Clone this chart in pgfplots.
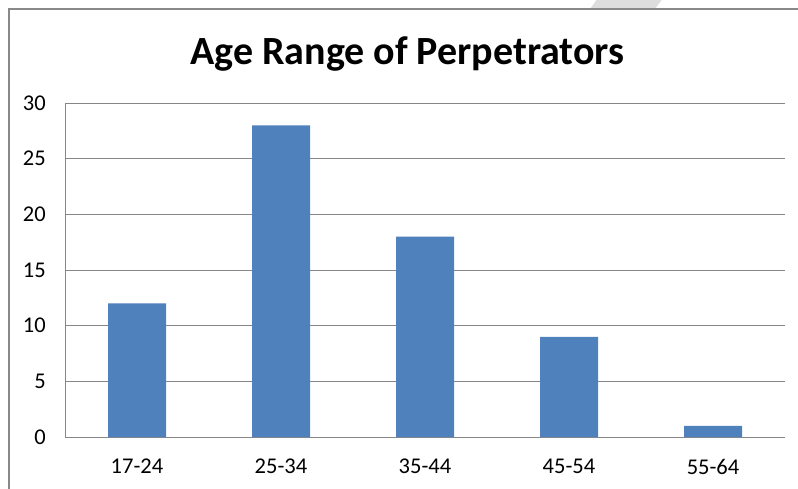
\documentclass[border=0pt]{standalone}
\usepackage{pgfplots}
\pgfplotsset{compat=1.18}
\usepackage{fontspec}
\setmainfont{Carlito}
\definecolor{barblue}{HTML}{4F81BD}
\definecolor{gridgray}{HTML}{868686}
\definecolor{framegray}{HTML}{898989}
\begin{document}
\begin{tikzpicture}[x=1pt,y=1pt]
\useasboundingbox (0,0) rectangle (798,488);
\fill[white] (0,0) rectangle (798,488);
\fill[fill={rgb,255:red,221;green,221;blue,221}] (598,490) -- (663,490) -- (655,479) -- (590,479) -- cycle;
\draw[framegray, line width=2pt] (9,-10) -- (9,479) -- (810,479);
\begin{axis}[
  at={(65pt,51pt)}, anchor=south west,
  scale only axis, width=720pt, height=334pt,
  xmin=-0.5, xmax=4.5, ymin=0, ymax=30,
  ytick={0,5,...,30},
  xtick={0,1,2,3,4},
  xticklabels={17-24,25-34,35-44,45-54,55-64},
  axis x line*=bottom, axis y line*=left,
  axis line style={gridgray, line width=1pt},
  ymajorgrids, grid style={gridgray, line width=1pt},
  major tick length=0pt, tick style={draw=none},
  /pgf/number format/assume math mode=true,
  tick label style={font=\fontsize{22.5}{26}\selectfont, text=black},
  yticklabel style={inner sep=0pt, xshift=-19pt},
  xticklabel style={inner sep=0pt, yshift=-22pt},
  clip=false,
]
\addplot[ybar, bar width=58pt, fill=barblue, draw=none] coordinates {
  (0,12) (1,28) (2,18) (3,9) (4,1)
};
\end{axis}
\node[anchor=base, font=\fontsize{40}{44}\selectfont\bfseries] at (407.5,423) {Age Range of Perpetrators};
\end{tikzpicture}
\end{document}
